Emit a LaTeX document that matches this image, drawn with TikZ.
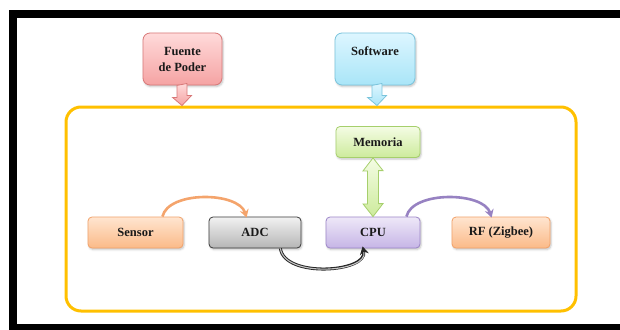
\documentclass[tikz,border=0pt]{standalone}
\usepackage{fontspec}
\setmainfont{Liberation Serif}
\usetikzlibrary{arrows.meta,shadows.blur,calc}

\definecolor{pinkTop}{HTML}{FFDADA}\definecolor{pinkBot}{HTML}{F5A3A3}\definecolor{pinkLine}{HTML}{D87878}
\definecolor{blueTop}{HTML}{DDF6FF}\definecolor{blueBot}{HTML}{A9E5F8}\definecolor{blueLine}{HTML}{7AC4DC}
\definecolor{greenTop}{HTML}{F4FCE4}\definecolor{greenBot}{HTML}{CDEB9C}\definecolor{greenLine}{HTML}{A6CF6C}
\definecolor{orangeTop}{HTML}{FFE5D0}\definecolor{orangeBot}{HTML}{FBBA88}\definecolor{orangeLine}{HTML}{F2A26A}
\definecolor{grayTop}{HTML}{F2F2F2}\definecolor{grayBot}{HTML}{B5B5B5}\definecolor{grayLine}{HTML}{3A3A3A}
\definecolor{purpleTop}{HTML}{EEE8F8}\definecolor{purpleBot}{HTML}{C6B5E6}\definecolor{purpleLine}{HTML}{9C86C8}
\definecolor{boardYellow}{HTML}{FFC000}
\definecolor{curveOrange}{HTML}{F4A46C}
\definecolor{curvePurple}{HTML}{9782C2}

\tikzset{
  block/.style 2 args={draw=#1Line, line width=0.8pt, top color=#1Top, bottom color=#1Bot,
    rounded corners=#2, inner sep=0pt,
    font=\fontsize{12.5}{16}\selectfont\bfseries, text=black!90,
    blur shadow={shadow xshift=1pt, shadow yshift=-1.5pt, shadow blur radius=2pt, shadow opacity=25}},
  topbox/.style={block={#1}{7pt}, minimum width=79pt, minimum height=52pt, align=center},
  unit/.style={block={#1}{4pt}, minimum height=31pt},
  feed/.style={draw=#1Line, line width=0.8pt, top color=#1Top, bottom color=#1Bot, line join=miter},
  link/.style={line width=2.6pt, -{Stealth[length=8pt,width=9pt]}},
}

\begin{document}
\begin{tikzpicture}[x=1pt,y=-1pt]
\useasboundingbox (0,0) rectangle (620,329);

% outer frame
\draw[line width=8pt] (13,14) rectangle (640,328);

% board outline
\node (board) [draw=boardYellow, line width=3pt, rounded corners=15pt,
  minimum width=510pt, minimum height=204pt, inner sep=0pt] at (321,209) {};

% supply and software blocks
\node (fuente) [topbox=pink] at (182.5,59) {Fuente\\de Poder};
\node (software) [topbox=blue, minimum width=80pt] at (375,59) {Software\\\mbox{}};

% board units
\node (memoria) [unit=green, minimum width=84pt] at (378,142) {Memoria};
\node (sensor) [unit=orange, minimum width=95pt] at (135.5,232.5) {Sensor};
\node (adc) [unit=gray, minimum width=92pt] at (255,232.5) {ADC};
\node (cpu) [unit=purple, minimum width=94pt] at (373,232.5) {CPU};
\node (rf) [unit=orange, minimum width=98pt] at (501,232.5) {RF (Zigbee)};

% feed arrows into the board
\draw[feed=pink] ([xshift=-0.5pt]fuente.south -| fuente.south) ++(-5,0)
  -- ++(0,12) -- ++(-4.5,0) -- ($(fuente.south |- board.north)+(-0.5,0)$)
  -- ++(9.5,-10) -- ++(-4.5,0) -- ++(0,-12) -- cycle;
\draw[feed=blue] ([xshift=2pt]software.south) ++(-5,0)
  -- ++(0,12) -- ++(-4.5,0) -- ($(software.south |- board.north)+(2,0)$)
  -- ++(9.5,-10) -- ++(-4.5,0) -- ++(0,-12) -- cycle;

% memory <-> cpu double arrow
\draw[feed=green] (cpu.north) -- ++(10,-13) -- ++(-4.5,0) -- ++(0,-33)
  -- ++(4.5,0) -- ($(cpu.north |- memoria.south)$) -- ++(-10,13) -- ++(4.5,0)
  -- ++(0,33) -- ++(-4.5,0) -- cycle;

% signal path
\draw[link, draw=curveOrange] ([xshift=-21pt]sensor.north east)
  .. controls +(6,-26) and +(-8,-26) .. ([xshift=38pt,yshift=-1pt]adc.north west);
\draw[link, draw=curvePurple] ([xshift=-14pt]cpu.north east)
  .. controls +(6,-26) and +(-8,-26) .. ([xshift=40pt,yshift=-1pt]rf.north west);
\draw[line width=3pt, draw=black!85, -{Stealth[length=8pt,width=9pt]}]
  ([xshift=-21pt]adc.south east)
  .. controls +(4,30) and +(6,26) .. ([xshift=37pt,yshift=2pt]cpu.south west);
\draw[line width=1.1pt, draw=gray!45, shorten >=6pt]
  ([xshift=-21pt]adc.south east)
  .. controls +(4,30) and +(6,26) .. ([xshift=37pt,yshift=2pt]cpu.south west);
\end{tikzpicture}
\end{document}
